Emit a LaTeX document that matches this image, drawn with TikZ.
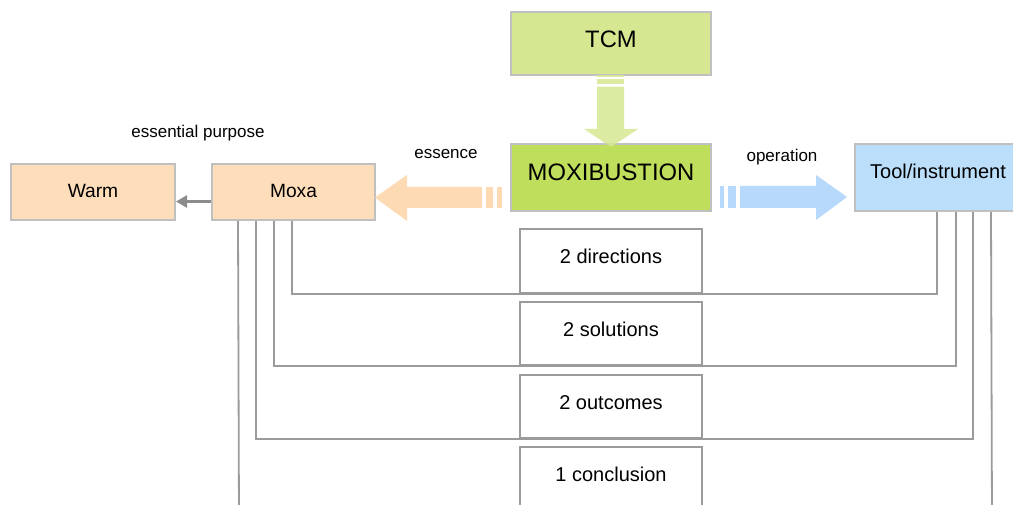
\documentclass[tikz,border=0pt]{standalone}
\usepackage{fontspec}
\setmainfont{Liberation Sans}
\usetikzlibrary{arrows.meta}
\definecolor{tcmg}{RGB}{213,232,145}
\definecolor{moxg}{RGB}{190,222,92}
\definecolor{peach}{RGB}{254,221,186}
\definecolor{peacharr}{RGB}{253,218,180}
\definecolor{lblue}{RGB}{187,222,251}
\definecolor{lbluearr}{RGB}{182,217,252}
\definecolor{bord}{RGB}{192,192,192}
\definecolor{conncol}{RGB}{155,155,155}
\definecolor{arrgray}{RGB}{140,140,140}
\tikzset{
  cbox/.style={draw=bord, line width=2pt, inner sep=0pt},
  wbox/.style={draw=conncol, line width=1.8pt, fill=white, inner sep=0pt, minimum width=182pt},
  bigtxt/.style={inner sep=0pt, font=\fontsize{23.8}{27}\selectfont},
  midtxt/.style={inner sep=0pt, font=\fontsize{20}{23}\selectfont},
  smtxt/.style={inner sep=0pt, font=\fontsize{19.2}{22}\selectfont},
  conn/.style={draw=conncol, line width=1.8pt},
  lbl/.style={font=\fontsize{17}{20}\selectfont, inner sep=0pt}
}
\begin{document}
\begin{tikzpicture}[x=1pt,y=-1pt]
\clip (0,0) rectangle (1013,505);
\fill[white] (0,0) rectangle (1013,505);
% boxes
\node[cbox, fill=tcmg, minimum width=200pt, minimum height=63pt] (tcm) at (611,43.5) {};
\node[cbox, fill=moxg, minimum width=200pt, minimum height=67pt] (mox) at (611,177.5) {};
\node[cbox, fill=peach, minimum width=164pt, minimum height=56pt] (warm) at (93,192) {};
\node[cbox, fill=peach, minimum width=163pt, minimum height=56pt] (moxa) at (293.5,192) {};
\node[cbox, fill=lblue, minimum width=166pt, minimum height=67pt] (tool) at (938,177.5) {};
\node[bigtxt] (tcmt) at ([yshift=4.5pt]tcm.center) {TCM};
\node[bigtxt] (moxt) at ([yshift=5.5pt]mox.center) {MOXIBUSTION};
\node[smtxt] (warmt) at ([yshift=1.2pt]warm.center) {Warm};
\node[smtxt] (moxat) at ([yshift=1.2pt]moxa.center) {Moxa};
\node[midtxt] (toolt) at ([yshift=5.7pt]tool.center) {Tool/instrument};
% lower boxes
\node[wbox, minimum height=64pt] (dir) at (611,261) {};
\node[wbox, minimum height=63pt] (sol) at (611,333.5) {};
\node[wbox, minimum height=63pt] (out) at (611,406.5) {};
\node[wbox, minimum height=73pt] (con) at (611,483.5) {};
\node[midtxt] (dirt) at ([yshift=-28.3pt]dir.north) {2 directions};
\node[midtxt] (solt) at ([yshift=-28.3pt]sol.north) {2 solutions};
\node[midtxt] (outt) at ([yshift=-28.3pt]out.north) {2 outcomes};
\node[midtxt] (cont) at ([yshift=-28.6pt]con.north) {1 conclusion};
% connectors
\draw[conn] ([xshift=81pt]moxa.south west) |- (dir.south) -| ([xshift=83pt]tool.south west);
\draw[conn] ([xshift=63pt]moxa.south west) |- (sol.south) -| ([xshift=102pt]tool.south west);
\draw[conn] ([xshift=45pt]moxa.south west) |- (out.south) -| ([xshift=119pt]tool.south west);
\coordinate (lend) at (239,520);
\coordinate (rend) at (992,520);
\draw[conn] ([xshift=27pt]moxa.south west) -- (lend);
\draw[conn] ([xshift=137pt]tool.south west) -- (rend);
% warm arrow
\draw[draw=arrgray, line width=2.5pt, -{Triangle[length=11pt,width=12pt]}] ([yshift=-9.5pt]moxa.west) -- ([yshift=-9.5pt]warm.east);
% fat down arrow
\begin{scope}[fill opacity=0.85]
\fill[tcmg] (597,75.5) rectangle (624,77.3);
\fill[tcmg] (597,79) rectangle (624,84.3);
\fill[tcmg] (597,86.7) -- (624,86.7) -- (624,129) -- (638,129) -- (611,147) -- (584,129) -- (597,129) -- cycle;
\end{scope}
% left fat arrow
\fill[peacharr] (501.7,187) rectangle (496.7,208);
\fill[peacharr] (493.3,187) rectangle (486,208);
\fill[peacharr] (482,187) -- (407,187) -- (407,175) -- (375,197.5) -- (407,221) -- (407,208) -- (482,208) -- cycle;
% right fat arrow
\fill[lbluearr] (720,186) rectangle (724,208);
\fill[lbluearr] (728.3,186) rectangle (736,208);
\fill[lbluearr] (740,186) -- (816,186) -- (816,175) -- (847,197) -- (816,220) -- (816,208) -- (740,208) -- cycle;
% labels
\node[lbl] (lp) at (198,133) {essential purpose};
\node[lbl] (le) at (446,154) {essence};
\node[lbl] (lo) at (782,157.5) {operation};
\end{tikzpicture}
\end{document}
